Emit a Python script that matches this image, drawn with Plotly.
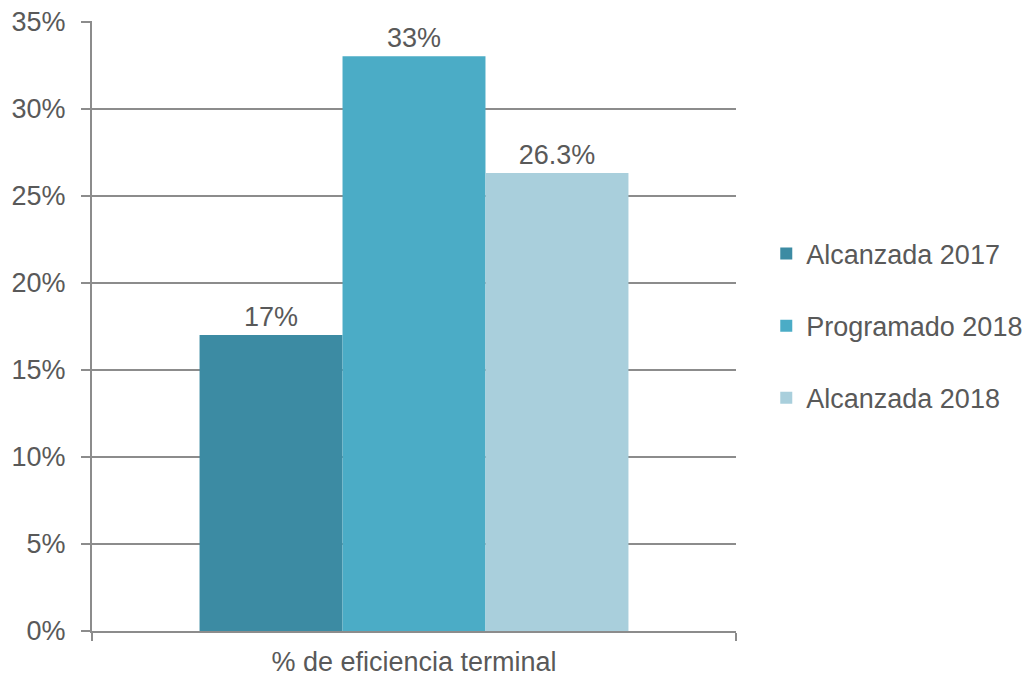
import plotly.graph_objects as go

categories = ["% de eficiencia terminal"]
series_names = ["Alcanzada 2017", "Programado 2018", "Alcanzada 2018"]
series_values = [[0.17], [0.33], [0.263]]
series_labels = [["17%"], ["33%"], ["26.3%"]]
colors = ["#3C8BA3", "#4BACC6", "#A9CFDC"]

FS = 27
fig = go.Figure()
for i, name in enumerate(series_names):
    fig.add_trace(go.Bar(
        x=categories, y=series_values[i], name=name,
        marker=dict(color=colors[i], line=dict(width=0)),
        text=series_labels[i], textposition="outside",
        textfont=dict(size=FS, color="#595959"),
        legendgroup=name, cliponaxis=False,
    ))

fig.update_layout(
    width=1031, height=677,
    margin=dict(l=84, r=303, t=13, b=54, autoexpand=False),
    paper_bgcolor="white", plot_bgcolor="white",
    font=dict(family="Liberation Sans, Arial, sans-serif", size=FS, color="#595959"),
    barmode="group", bargap=0.334, bargroupgap=0,
    showlegend=True,
    legend=dict(x=1.047, y=0.5, xanchor="left", yanchor="middle",
                font=dict(size=FS, color="#595959"),
                traceorder="grouped", tracegroupgap=34,
                itemwidth=30),
    xaxis=dict(showline=True, linecolor="#8C8C8C", linewidth=2,
               ticks="outside", tickson="boundaries", ticklen=8,
               tickcolor="#8C8C8C", tickwidth=2, automargin=False,
               ticklabelstandoff=6,
               tickfont=dict(size=FS, color="#595959")),
    yaxis=dict(range=[0, 0.3503], tickvals=[0, 0.05, 0.1, 0.15, 0.2, 0.25, 0.3, 0.35],
               tickformat=".0%", ticklabeloverflow="allow",
               showline=True, linecolor="#8C8C8C", linewidth=2,
               ticks="outside", ticklen=9, tickcolor="#8C8C8C", tickwidth=2,
               showgrid=True, gridcolor="#8C8C8C", gridwidth=2,
               zeroline=False, ticklabelstandoff=10, automargin=False,
               tickfont=dict(size=FS, color="#595959")),
)

fig.write_html("out.html")
